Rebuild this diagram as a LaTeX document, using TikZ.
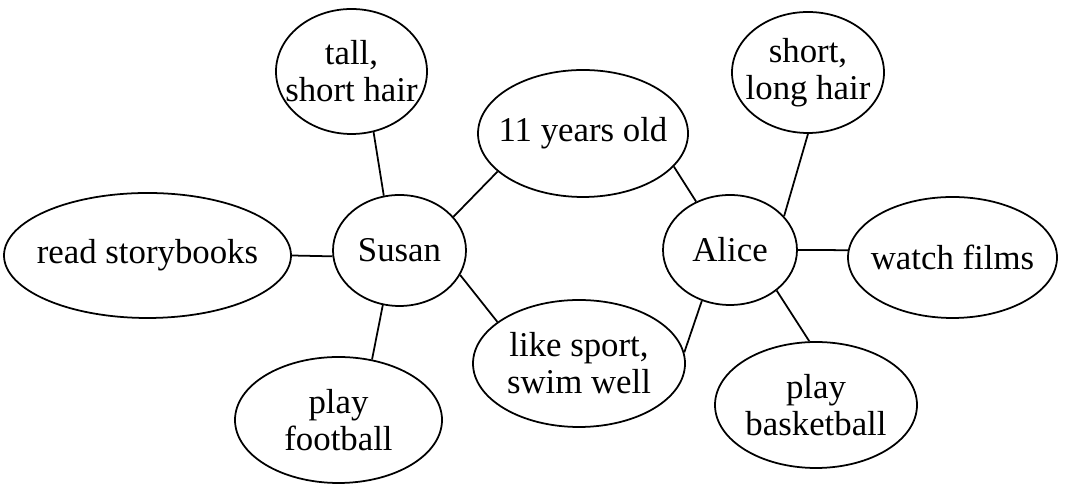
\documentclass[tikz,border=0pt]{standalone}
\usepackage{fontspec}
\setmainfont{Liberation Serif}
\usetikzlibrary{shapes.geometric}

\begin{document}
\begin{tikzpicture}[
  every node/.style={font=\fontsize{19.8}{21}\selectfont},
  oval/.style={draw, ellipse, line width=1pt, inner sep=-3cm, align=center},
  link/.style={line width=1pt}
]
\useasboundingbox (0,0) rectangle (21.36,9.74);
% people
\node[oval, minimum width=2.66cm, minimum height=2.22cm] (susan) at (7.99,4.73) {Susan};
\node[oval, minimum width=2.68cm, minimum height=2.2cm] (alice) at (14.6,4.74) {Alice};
% Susan
\node[oval, minimum width=3.02cm, minimum height=2.5cm] (tall) at (7.03,8.31) {tall,\\short hair};
\node[oval, minimum width=5.74cm, minimum height=2.5cm] (read) at (2.95,4.63) {read storybooks};
\node[oval, minimum width=4.14cm, minimum height=2.52cm] (football) at (6.77,1.34) {play\\football};
% both
\node[oval, minimum width=4.2cm, minimum height=2.54cm] (age) at (11.66,7.07) {11 years old};
\node[oval, minimum width=4.24cm, minimum height=2.54cm] (sport) at (11.58,2.47) {like sport,\\swim well};
% Alice
\node[oval, minimum width=3.04cm, minimum height=2.42cm] (longhair) at (16.16,8.29) {short,\\long hair};
\node[oval, minimum width=4.18cm, minimum height=2.42cm] (films) at (19.05,4.59) {watch films};
\node[oval, minimum width=4.04cm, minimum height=2.52cm] (basket) at (16.32,1.64) {play\\basketball};

\draw[link] (susan.106) -- (tall.-70);
\draw[link] (susan.185) -- (read.0);
\draw[link] (susan.253) -- (football.61);
\draw[link] (susan.32) -- (age.204);
\draw[link] (susan.-22) -- (sport.153);
\draw[link] (alice.125) -- (age.-20);
\draw[link] (alice.241) -- (sport.6);
\draw[link] (alice.32) -- (longhair.-90);
\draw[link] (alice.0) -- (films.176);
\draw[link] (alice.-41) -- (basket.96);
\end{tikzpicture}
\end{document}
